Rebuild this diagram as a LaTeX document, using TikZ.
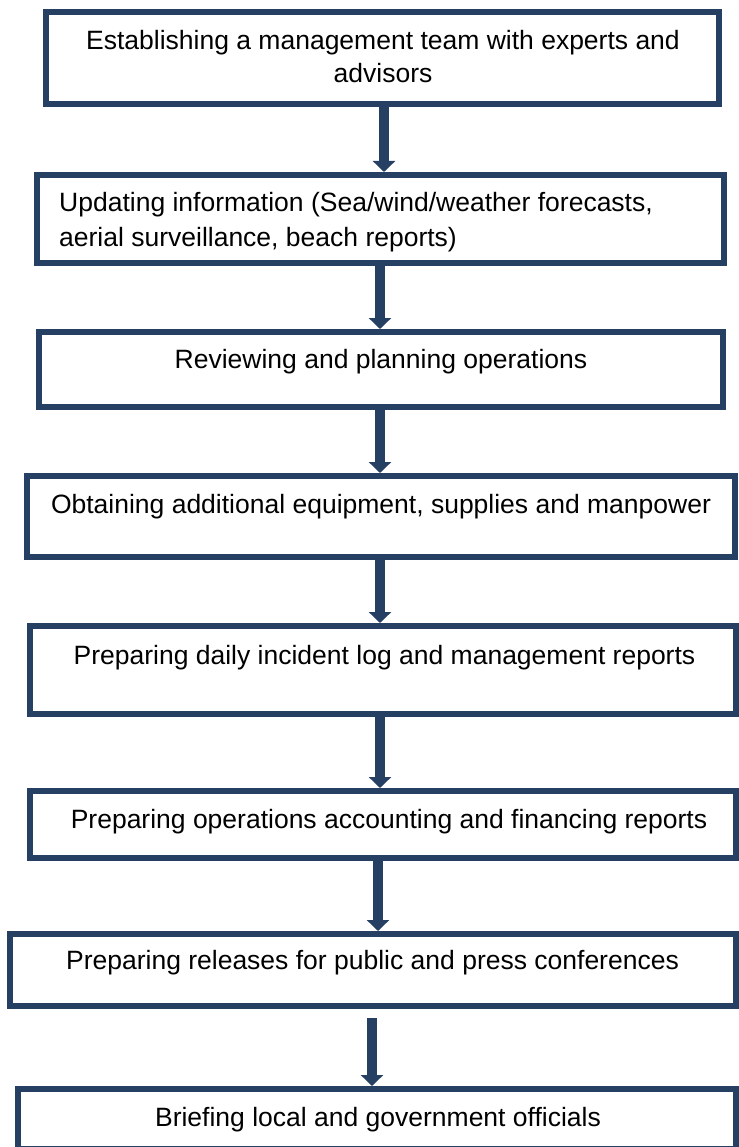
\documentclass[tikz,border=0pt]{standalone}
\usepackage{fontspec}
\setmainfont{Liberation Sans}
\usetikzlibrary{arrows.meta}
\definecolor{navy}{HTML}{264064}
\begin{document}
\begin{tikzpicture}[x=1pt,y=-1pt,
  box/.style={draw=navy, line width=6pt, fill=white, inner sep=0pt},
  txt/.style={inner sep=0pt, anchor=base, font=\fontsize{26.5}{33}\selectfont, text=black},
  arr/.style={draw=navy, line width=10.5pt, -{Triangle[width=22pt,length=11pt]}}]
\useasboundingbox (0,0) rectangle (738,1147);
% boxes
\node[box, minimum width=673pt, minimum height=92pt] (b1) at (382.5,58) {};
\node[box, minimum width=687pt, minimum height=88pt] (b2) at (380.5,219) {};
\node[box, minimum width=684pt, minimum height=75pt] (b3) at (381,369.5) {};
\node[box, minimum width=708pt, minimum height=81pt] (b4) at (381,516.5) {};
\node[box, minimum width=706pt, minimum height=88pt] (b5) at (383,670) {};
\node[box, minimum width=706pt, minimum height=67pt] (b6) at (383,824.5) {};
\node[box, minimum width=726pt, minimum height=72pt] (b7) at (373,970) {};
\node[box, minimum width=718pt, minimum height=60pt] (b8) at (377,1119) {};
% texts
\node[txt] (t1a) at (383,50) {Establishing a management team with experts and};
\node[txt] (t1b) at (383,83) {advisors};
\node[txt, anchor=base west] (t2a) at (59,212) {Updating information (Sea/wind/weather forecasts,};
\node[txt, anchor=base west] (t2b) at (59,247) {aerial surveillance, beach reports)};
\node[txt] (t3) at (381,368) {Reviewing and planning operations};
\node[txt] (t4) at (381,513) {Obtaining additional equipment, supplies and manpower};
\node[txt] (t5) at (384.5,664) {Preparing daily incident log and management reports};
\node[txt] (t6) at (389,828) {Preparing operations accounting and financing reports};
\node[txt] (t7) at (372.5,969) {Preparing releases for public and press conferences};
\node[txt] (t8) at (378,1126) {Briefing local and government officials};
% arrow columns
\coordinate (c1) at (384,0);
\coordinate (c2) at (380,0);
\coordinate (c3) at (380,0);
\coordinate (c4) at (380,0);
\coordinate (c5) at (380,0);
\coordinate (c6) at (378,0);
\coordinate (c7) at (372,0);
\draw[arr] (b1.south -| c1) -- (b2.north -| c1);
\draw[arr] ([yshift=3pt]b2.south -| c2) -- (b3.north -| c2);
\draw[arr] (b3.south -| c3) -- (b4.north -| c3);
\draw[arr] (b4.south -| c4) -- (b5.north -| c4);
\draw[arr] (b5.south -| c5) -- (b6.north -| c5);
\draw[arr] (b6.south -| c6) -- (b7.north -| c6);
\draw[arr] ([yshift=-9pt]b7.south -| c7) -- (b8.north -| c7);
\end{tikzpicture}
\end{document}
